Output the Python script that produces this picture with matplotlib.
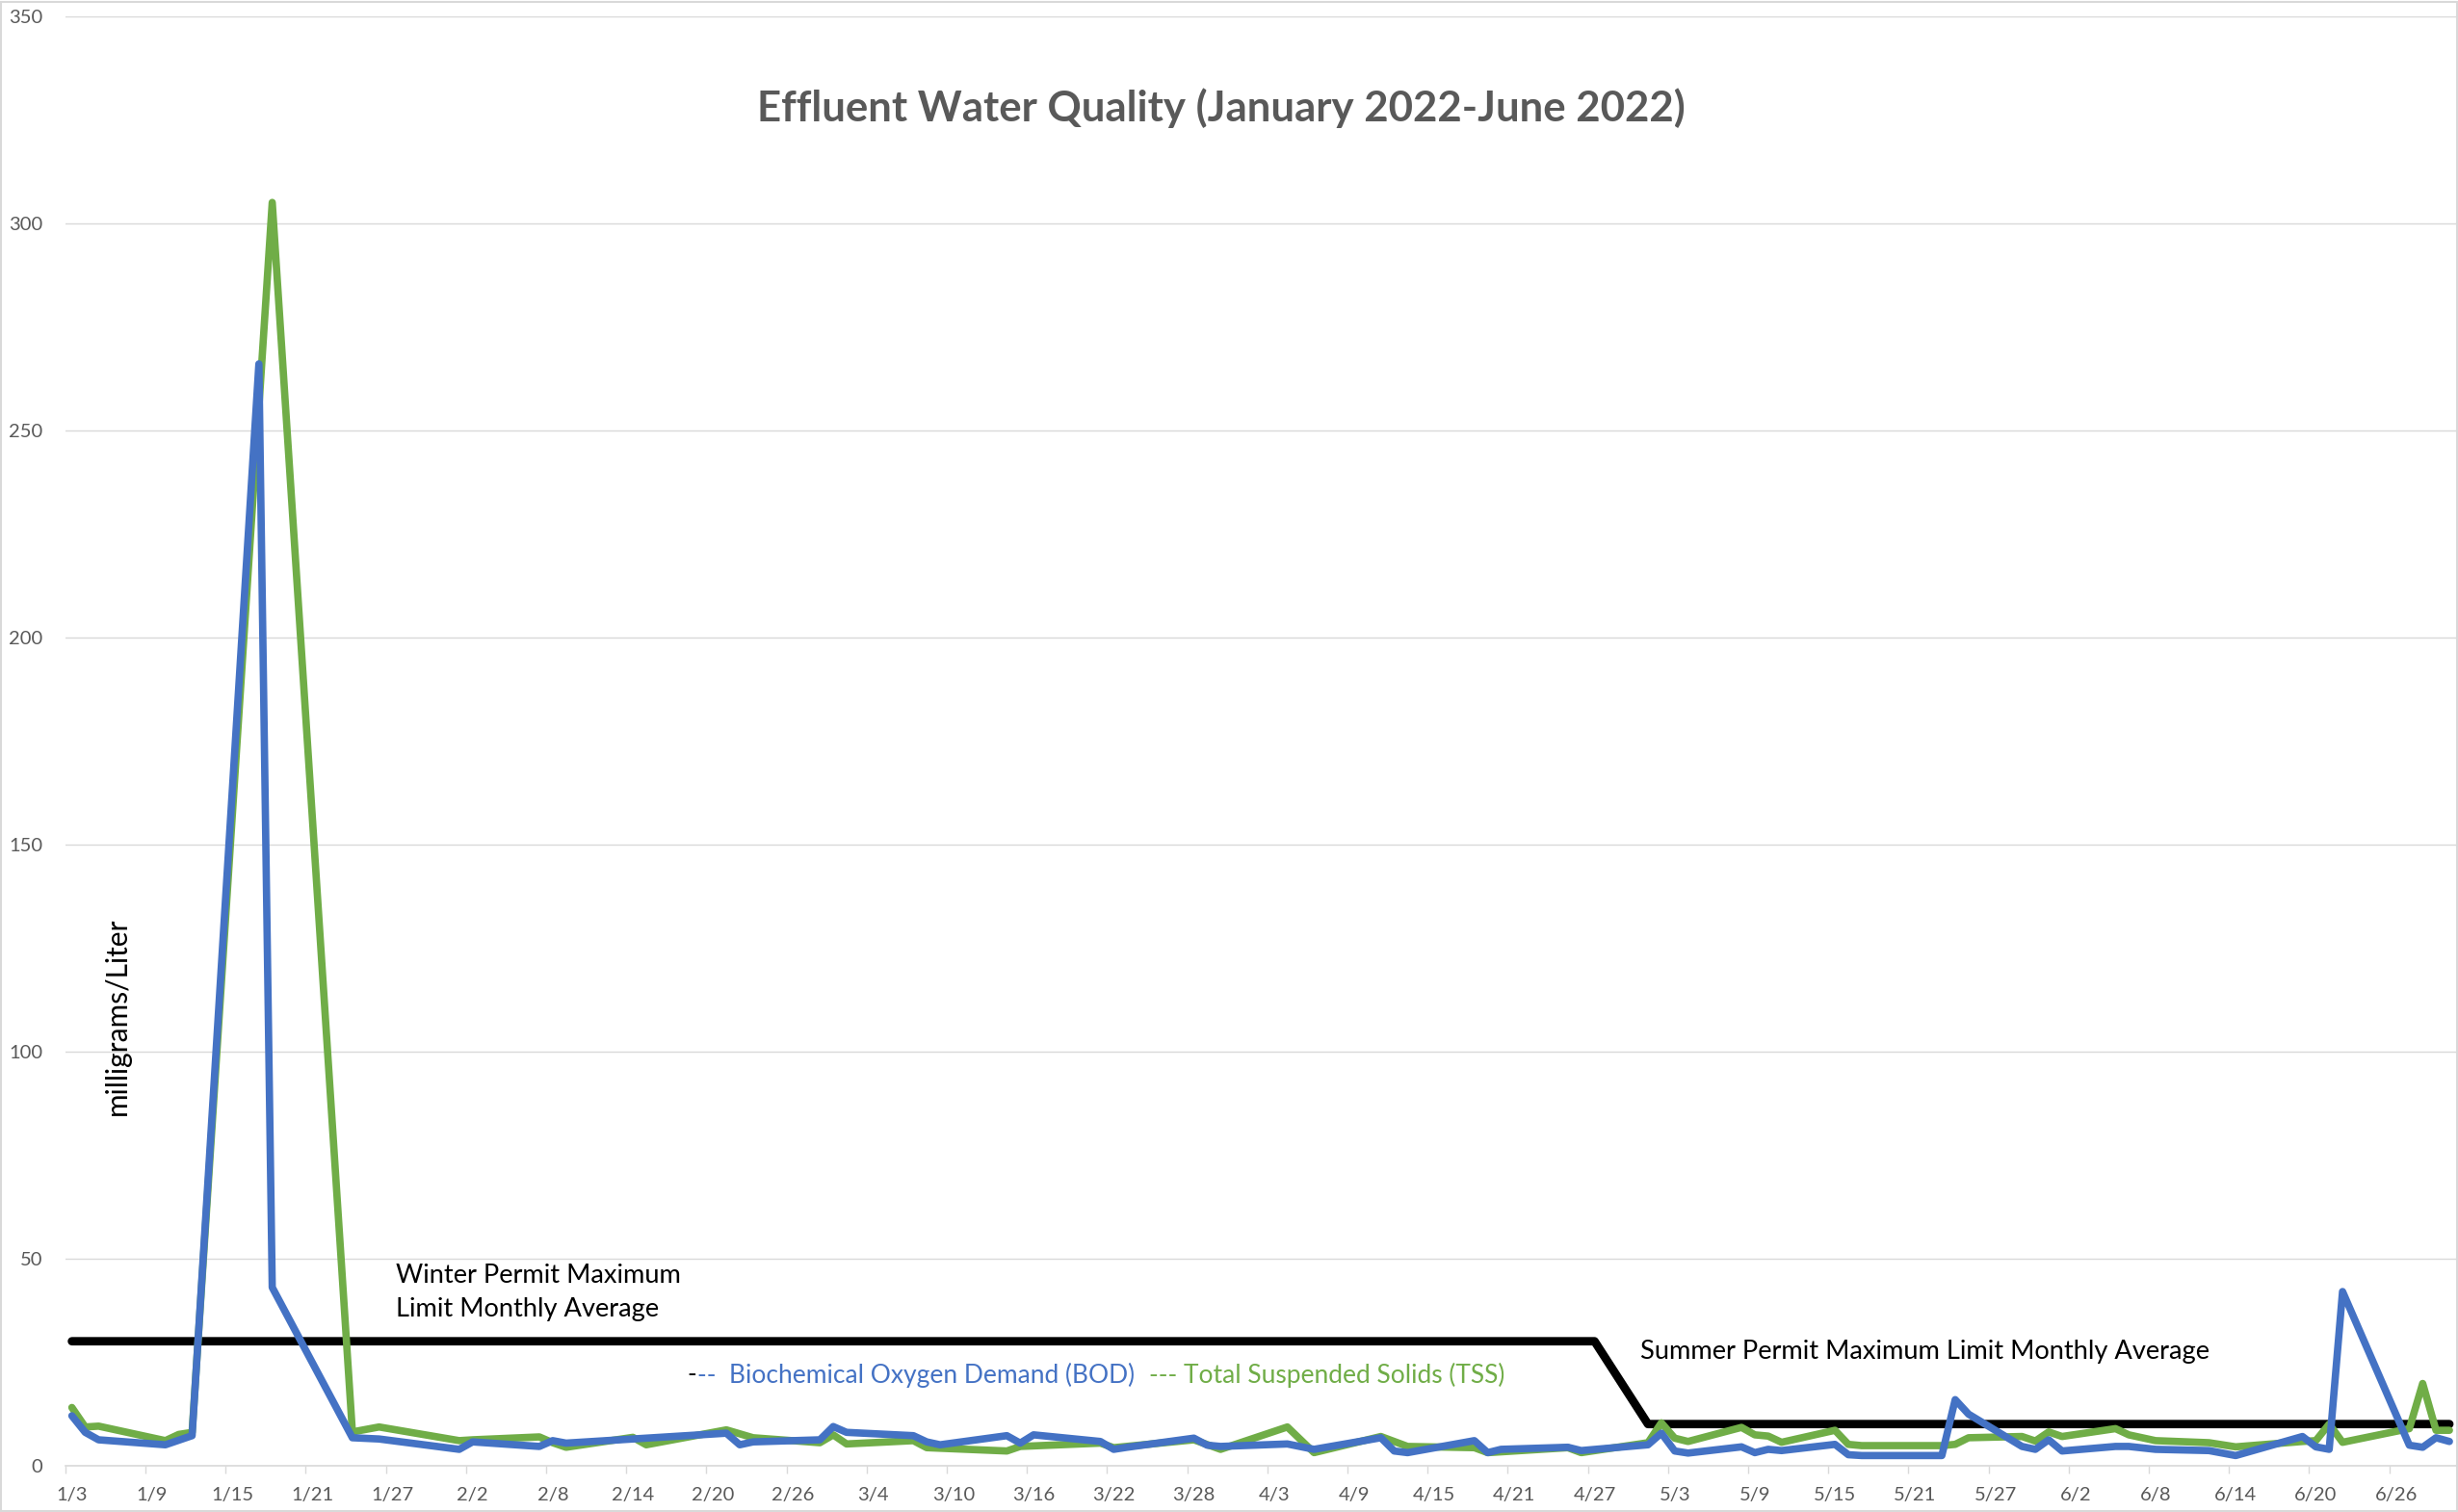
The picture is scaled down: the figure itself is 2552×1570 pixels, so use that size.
import pandas as pd
import matplotlib
matplotlib.use('Agg')
import matplotlib.pyplot as plt
from matplotlib.patches import Rectangle

plt.rcParams['font.family'] = ['Lato', 'DejaVu Sans']

# sampling dates and lab results, mg/L
bod_dates = ['2022-01-03', '2022-01-04', '2022-01-05', '2022-01-10', '2022-01-12', '2022-01-17',
             '2022-01-18', '2022-01-24', '2022-01-26', '2022-02-01', '2022-02-02', '2022-02-07',
             '2022-02-08', '2022-02-09', '2022-02-21', '2022-02-22', '2022-02-23', '2022-02-28',
             '2022-03-01', '2022-03-02', '2022-03-07', '2022-03-08', '2022-03-09', '2022-03-14',
             '2022-03-15', '2022-03-16', '2022-03-21', '2022-03-22', '2022-03-23', '2022-03-28',
             '2022-03-29', '2022-03-30', '2022-04-04', '2022-04-06', '2022-04-11', '2022-04-12',
             '2022-04-13', '2022-04-18', '2022-04-19', '2022-04-20', '2022-04-25', '2022-04-26',
             '2022-05-01', '2022-05-02', '2022-05-03', '2022-05-04', '2022-05-08', '2022-05-09',
             '2022-05-10', '2022-05-11', '2022-05-15', '2022-05-16', '2022-05-17', '2022-05-23',
             '2022-05-24', '2022-05-25', '2022-05-29', '2022-05-30', '2022-05-31', '2022-06-01',
             '2022-06-05', '2022-06-06', '2022-06-08', '2022-06-12', '2022-06-14', '2022-06-19',
             '2022-06-20', '2022-06-21', '2022-06-22', '2022-06-27', '2022-06-28', '2022-06-29',
             '2022-06-30']
bod = [12, 8.0, 6.2, 5.0, 7.2, 266,
       43, 6.7, 6.4, 3.9, 5.7, 4.6,
       6.0, 5.4, 7.8, 5.0, 5.7, 6.2,
       9.4, 8.0, 7.2, 5.7, 5.0, 7.2,
       5.4, 7.4, 5.8, 3.9, 4.4, 6.6,
       4.9, 4.6, 5.2, 3.9, 6.7, 3.5,
       3.1, 6.0, 3.1, 3.9, 4.4, 3.6,
       5.0, 7.8, 3.5, 3.0, 4.5, 3.1,
       3.9, 3.6, 5.1, 2.6, 2.4, 2.4,
       15.9, 12.4, 4.6, 3.9, 6.2, 3.5,
       4.6, 4.6, 3.9, 3.6, 2.4, 7.0,
       4.5, 3.9, 42.0, 4.9, 4.4, 6.7,
       5.8]

tss_dates = ['2022-01-03', '2022-01-04', '2022-01-05', '2022-01-10', '2022-01-11', '2022-01-12',
             '2022-01-18', '2022-01-24', '2022-01-26', '2022-02-01', '2022-02-02', '2022-02-07',
             '2022-02-08', '2022-02-09', '2022-02-14', '2022-02-15', '2022-02-21', '2022-02-23',
             '2022-02-28', '2022-03-01', '2022-03-02', '2022-03-07', '2022-03-08', '2022-03-14',
             '2022-03-15', '2022-03-21', '2022-03-22', '2022-03-28', '2022-03-30', '2022-04-04',
             '2022-04-06', '2022-04-11', '2022-04-13', '2022-04-18', '2022-04-19', '2022-04-25',
             '2022-04-26', '2022-05-01', '2022-05-02', '2022-05-03', '2022-05-04', '2022-05-08',
             '2022-05-09', '2022-05-10', '2022-05-11', '2022-05-15', '2022-05-16', '2022-05-17',
             '2022-05-23', '2022-05-24', '2022-05-25', '2022-05-29', '2022-05-30', '2022-05-31',
             '2022-06-01', '2022-06-05', '2022-06-06', '2022-06-08', '2022-06-12', '2022-06-14',
             '2022-06-19', '2022-06-20', '2022-06-21', '2022-06-22', '2022-06-27', '2022-06-28',
             '2022-06-29', '2022-06-30']
tss = [14, 9.3, 9.5, 6.0, 7.5, 8.0,
       305, 8.1, 9.3, 6.0, 6.2, 6.9,
       5.5, 4.4, 6.8, 5.0, 8.6, 6.7,
       5.5, 7.4, 5.2, 6.0, 4.3, 3.5,
       4.6, 5.4, 4.3, 6.2, 3.9, 9.3,
       3.1, 7.0, 4.6, 4.3, 3.1, 4.3,
       3.1, 5.5, 10.3, 6.6, 5.8, 9.2,
       7.4, 7.1, 5.6, 8.5, 5.1, 4.8,
       4.8, 5.1, 6.7, 7.0, 5.9, 8.1,
       7.0, 8.9, 7.4, 6.0, 5.5, 4.5,
       5.8, 6.0, 10.0, 5.6, 8.9, 19.8,
       8.5, 8.5]

# permit limit, monthly average (winter 30, summer 10)
limit_dates = ['2022-01-03', '2022-04-27', '2022-05-01', '2022-06-30']
limit = [30, 30, 10, 10]

tick_dates = pd.date_range('2022-01-03', '2022-06-26', freq='6D')
tick_labels = [f'{d.month}/{d.day}' for d in tick_dates]

GREY = '#595959'
GRID = '#D9D9D9'
BLUE = '#4472C4'
GREEN = '#70AD47'


def day_centre(dates):
    # excel puts each point in the middle of its day
    return pd.to_datetime(dates) + pd.Timedelta(hours=12)


W, H = 2552, 1570
fig = plt.figure(figsize=(W / 100, H / 100), dpi=100)
fig.patches.append(Rectangle((0.0005, 0.0008), 0.999, 0.998, transform=fig.transFigure,
                             fill=False, edgecolor=GRID, linewidth=1.5))

ax = fig.add_axes([67.7 / W, 48.3 / H, (2550 - 67.7) / W, (1521.7 - 16.7) / H])

ax.plot(day_centre(limit_dates), limit, color='black', lw=6.3,
        solid_capstyle='round', solid_joinstyle='round', zorder=3)
ax.plot(day_centre(tss_dates), tss, color=GREEN, lw=5.5,
        solid_capstyle='round', solid_joinstyle='round', zorder=4)
ax.plot(day_centre(bod_dates), bod, color=BLUE, lw=5.5,
        solid_capstyle='round', solid_joinstyle='round', zorder=5)

ax.set_ylim(0, 350)
ax.set_yticks(range(0, 351, 50))
ax.set_xlim(pd.Timestamp('2022-01-03'), pd.Timestamp('2022-07-01'))

ax.set_xticks(tick_dates)
ax.set_xticklabels([])
ax.set_xticks(tick_dates + pd.Timedelta(hours=12), minor=True)
ax.set_xticklabels(tick_labels, minor=True)

ax.tick_params(axis='x', which='major', length=6, width=1, color=GRID, direction='out')
ax.tick_params(axis='x', which='minor', length=0, pad=16, labelsize=14.5, labelcolor=GREY)
ax.tick_params(axis='y', length=0, pad=17, labelsize=14.5, labelcolor=GREY)

ax.grid(axis='y', color=GRID, lw=1)
ax.set_axisbelow(True)
for s in ['top', 'right', 'left']:
    ax.spines[s].set_visible(False)
ax.spines['bottom'].set_color(GRID)
ax.spines['bottom'].set_linewidth(1.2)
ax.spines['bottom'].set_zorder(1)

fig.text(1268 / W, 1 - 112 / H, 'Effluent Water Quality (January 2022-June 2022)',
         ha='center', va='center', fontsize=31.5, fontweight='bold', color=GREY)
fig.text(122 / W, 1 - 1055 / H, 'milligrams/Liter', rotation=90,
         ha='center', va='center', fontsize=21.5, color='black')
fig.text(411 / W, 1 - 1342 / H, 'Winter Permit Maximum\nLimit Monthly Average',
         ha='left', va='center', fontsize=19.6, color='black', linespacing=1.45)
fig.text(1703 / W, 1 - 1403 / H, 'Summer Permit Maximum Limit Monthly Average',
         ha='left', va='center', fontsize=19.6, color='black')

# hand-made key under the winter limit line
fig.text(713 / W, 1 - 1428 / H, '-', ha='left', va='center', fontsize=19, color='black')
fig.text(724 / W, 1 - 1428 / H, '--  Biochemical Oxygen Demand (BOD)',
         ha='left', va='center', fontsize=19, color=BLUE)
fig.text(1193 / W, 1 - 1428 / H, '--- Total Suspended Solids (TSS)',
         ha='left', va='center', fontsize=19, color=GREEN)

fig.savefig('out.png', dpi=100)
